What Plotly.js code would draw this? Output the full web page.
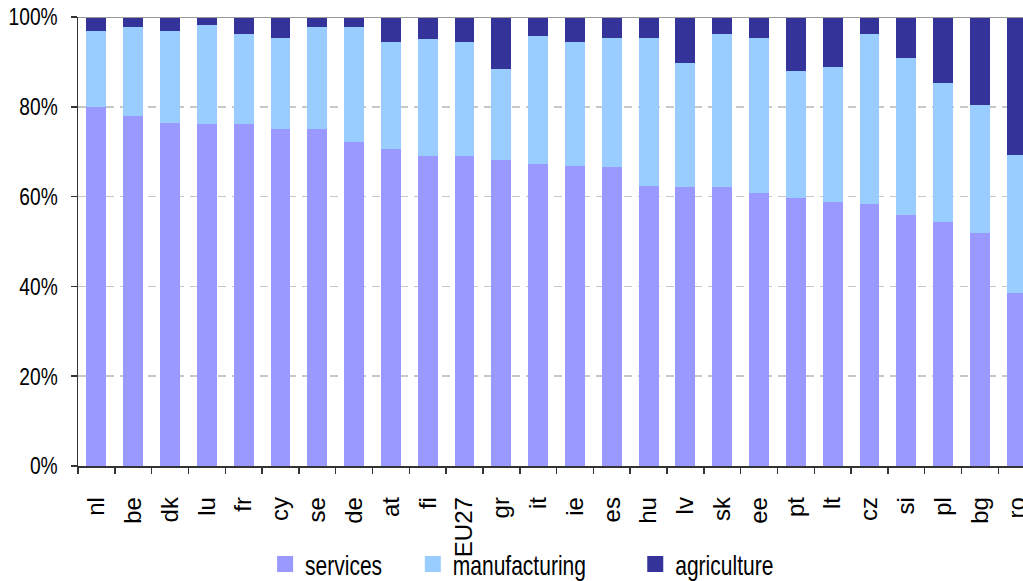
<!DOCTYPE html>
<html>
<head>
<meta charset="utf-8">
<script src="https://cdn.plot.ly/plotly-3.0.1.min.js"></script>
<style>
  html, body { margin: 0; padding: 0; background: #fff; }
  #chart { width: 1023px; height: 581px; }
</style>
</head>
<body>
<div id="chart"></div>
<script>
const categories = ["nl","be","dk","lu","fr","cy","se","de","at","fi","EU27","gr","it","ie","es","hu","lv","sk","ee","pt","lt","cz","si","pl","bg","ro"];
const services      = [80.0,77.9,76.4,76.2,76.2,75.0,75.0,72.1,70.6,69.1,69.1,68.1,67.2,66.8,66.6,62.3,62.1,62.1,60.8,59.7,58.8,58.3,55.9,54.4,51.9,38.5];
const manufacturing = [16.9,19.9,20.5,22.0,20.0,20.3,22.8,25.7,23.8,26.0,25.3,20.3,28.6,27.6,28.7,33.0,27.7,34.1,34.5,28.2,30.0,37.9,35.0,30.9,28.5,30.7];
const agriculture   = [3.1,2.2,3.1,1.8,3.8,4.7,2.2,2.2,5.6,4.9,5.6,11.6,4.2,5.6,4.7,4.7,10.2,3.8,4.7,12.1,11.2,3.8,9.1,14.7,19.6,30.8];
const seriesNames = ["services","manufacturing","agriculture"];
const seriesColors = ["#9999FF","#99CCFF","#333399"];
const yTicks = [0,20,40,60,80,100];

const FONT = '"Liberation Sans", Arial, sans-serif';
const seriesData = [services, manufacturing, agriculture];

const traces = seriesData.map((vals, i) => ({
  type: 'bar',
  name: seriesNames[i],
  x: categories,
  y: vals,
  marker: { color: seriesColors[i], line: { width: 0 } },
  showlegend: false
}));
seriesNames.forEach((n, i) => {
  traces.push({
    type: 'scatter', mode: 'markers', name: n,
    x: [null], y: [null],
    marker: { symbol: 'square', size: 16, color: seriesColors[i] },
    showlegend: true
  });
});

const layout = {
  width: 1023, height: 581,
  margin: { l: 78, r: 0, t: 17, b: 115, autoexpand: false },
  paper_bgcolor: '#ffffff', plot_bgcolor: '#ffffff',
  barmode: 'stack',
  bargap: 0.46,
  font: { family: FONT, size: 24, color: '#000' },
  xaxis: {
    type: 'category',
    range: [-0.5, 25.17],
    tickangle: -90,
    tickson: 'boundaries',
    ticks: 'outside', ticklen: 6, tickwidth: 1.5, tickcolor: '#333',
    showline: true, linecolor: '#333', linewidth: 1.5,
    showgrid: false, zeroline: false,
    automargin: false,
    ticklabelstandoff: 20,
    tickfont: { family: FONT, size: 24, color: '#000' },
    fixedrange: true
  },
  yaxis: {
    range: [0, 100],
    tickvals: yTicks,
    ticktext: yTicks.map(v => v + '%'),
    ticks: 'outside', ticklen: 6, tickwidth: 1.5, tickcolor: '#333',
    showline: true, linecolor: '#333', linewidth: 1.5,
    showgrid: true, gridcolor: '#C8C8C8', gridwidth: 1.5, griddash: '8px,6px',
    zeroline: false,
    automargin: false,
    ticklabelstandoff: 8,
    tickfont: { family: FONT, size: 24, color: '#000' },
    fixedrange: true
  },
  shapes: [{
    type: 'line', xref: 'paper', yref: 'y', x0: 0, x1: 1, y0: 100, y1: 100,
    line: { color: '#999999', width: 2 }, layer: 'above'
  }],
  showlegend: true,
  legend: {
    orientation: 'h',
    x: 0.198, xanchor: 'left',
    y: -0.219, yanchor: 'middle',
    font: { family: FONT, size: 28, color: '#000' },
    itemwidth: 30,
    traceorder: 'normal',
    bgcolor: 'rgba(0,0,0,0)'
  }
};

function squeeze(t, f) {
  if (t.getAttribute('data-sq')) return;
  const L = t.getComputedTextLength();
  if (!L) return;
  t.setAttribute('textLength', (L * f).toFixed(1));
  t.setAttribute('lengthAdjust', 'spacingAndGlyphs');
  t.setAttribute('data-sq', '1');
}
const gd = document.getElementById('chart');
function squeezeAll() {
  gd.querySelectorAll('.ytick text').forEach(t => squeeze(t, 0.8));
  gd.querySelectorAll('text.legendtext').forEach(t => squeeze(t, 0.75));
}
Plotly.newPlot(gd, traces, layout, { displayModeBar: false, staticPlot: true }).then(() => {
  squeezeAll();
  gd.on('plotly_afterplot', squeezeAll);
  const obs = new MutationObserver(squeezeAll);
  obs.observe(gd, { childList: true, subtree: true });
  setTimeout(squeezeAll, 50);
});
</script>
</body>
</html>
